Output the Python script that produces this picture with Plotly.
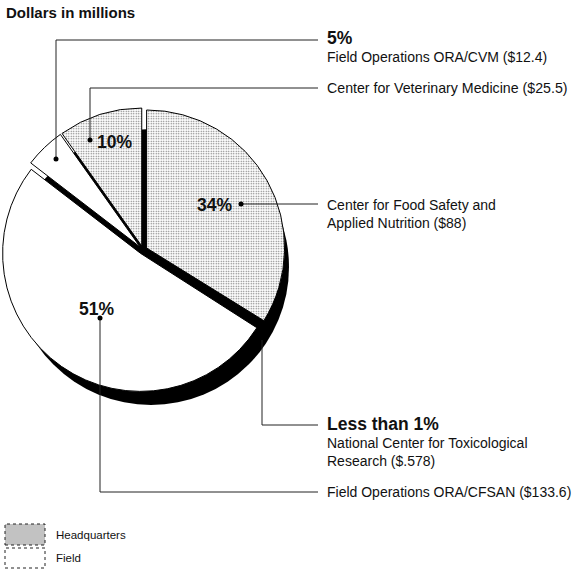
import plotly.graph_objects as go

# ---- data (clockwise from 12 o'clock) ----
labels = ["Center for Food Safety and Applied Nutrition",
          "National Center for Toxicological Research",
          "Field Operations ORA/CFSAN",
          "Field Operations ORA/CVM",
          "Center for Veterinary Medicine"]
values = [88, 0.578, 133.6, 12.4, 25.5]
groups = ["Headquarters", "Headquarters", "Field", "Field", "Headquarters"]
legend_items = ["Headquarters", "Field"]
total = sum(values)
pcts = [v / total * 100 for v in values]

W, H = 584, 569
def px(x): return x / W
def py(y): return 1 - y / H

FONT = "Liberation Sans, Arial, sans-serif"
GRAY = "#c2c2c2"

slice_colors = []
patterns = []
for g, v in zip(groups, values):
    if v / total < 0.01:
        slice_colors.append("#000000"); patterns.append("")
    elif g == "Headquarters":
        slice_colors.append(GRAY); patterns.append(".")
    else:
        slice_colors.append("#ffffff"); patterns.append("")

fig = go.Figure()

# shadow disc
cx, cy, r = 151, 267, 138
fig.add_trace(go.Pie(values=[total], labels=["shadow"], sort=False,
                     marker=dict(colors=["#000000"], line=dict(width=0)),
                     textinfo="none", hoverinfo="skip", showlegend=False,
                     domain=dict(x=[px(cx - r), px(cx + r)], y=[py(cy + r), py(cy - r)])))

# main pie
cx, cy, r = 143, 250, 138
pull = 0.03
half = r * (1 + pull)
fig.add_trace(go.Pie(values=values, labels=labels, sort=False, direction="clockwise",
                     rotation=0, pull=[pull] * len(values),
                     marker=dict(colors=slice_colors, line=dict(color="#000000", width=1),
                                 pattern=dict(shape=patterns, fgcolor="#6e6e6e", size=2.5,
                                              solidity=0.25)),
                     textinfo="none", hoverinfo="label+value", showlegend=False,
                     domain=dict(x=[px(cx - half), px(cx + half)],
                                 y=[py(cy + half), py(cy - half)])))

shapes = []
annotations = []

def line(x0, y0, x1, y1):
    shapes.append(dict(type="line", xref="paper", yref="paper",
                       x0=px(x0), y0=py(y0), x1=px(x1), y1=py(y1),
                       line=dict(color="#222", width=1)))

def dot(x, y, s=2.5):
    shapes.append(dict(type="circle", xref="paper", yref="paper",
                       x0=px(x - s), y0=py(y + s), x1=px(x + s), y1=py(y - s),
                       fillcolor="#000", line=dict(width=0)))

def text(x, y, t, size=14, bold=False, xanchor="left"):
    annotations.append(dict(xref="paper", yref="paper", x=px(x), y=py(y), text=("<b>%s</b>" % t) if bold else t,
                            showarrow=False, xanchor=xanchor, yanchor="middle",
                            font=dict(family=FONT, size=size, color="#111"), borderpad=0))

def pct(p):
    return "Less than 1%" if p < 1 else "%d%%" % round(p)

# leaders
line(56, 159, 56, 40); line(56, 40, 318, 40); dot(56, 159)
line(90, 140, 90, 88); line(90, 88, 318, 88); dot(90, 140)
line(241, 204, 318, 204); dot(241, 204)
line(262, 340, 262, 425); line(262, 425, 318, 425)
line(100, 318, 100, 492); line(100, 492, 318, 492); dot(100, 318)

# labels on right
text(326, 38, pct(pcts[3]), size=17.5, bold=True)
text(326, 57, "%s ($%s)" % (labels[3], values[3]))
text(326, 88, "%s ($%s)" % (labels[4], values[4]), size=14.2)
text(326, 205, "Center for Food Safety and")
text(326, 223, "Applied Nutrition ($%g)" % values[0])
text(326, 424, pct(pcts[1]), size=17.5, bold=True)
text(326, 443, "National Center for Toxicological")
text(326, 461, "Research ($%s)" % ("%g" % values[1]).lstrip("0"))
text(326, 492, "%s ($%s)" % (labels[2], values[2]))

# percentages in slices
text(114, 142, pct(pcts[4]), size=17.5, bold=True, xanchor="center")
text(215, 205, pct(pcts[0]), size=17.5, bold=True, xanchor="center")
text(96, 309, pct(pcts[2]), size=17.5, bold=True, xanchor="center")

# title
text(5, 13, "Dollars in millions", size=15, bold=True)

# legend
shapes.append(dict(type="rect", xref="paper", yref="paper", x0=px(5), x1=px(45), y0=py(545), y1=py(524),
                   fillcolor=GRAY, line=dict(color="#222", width=1, dash="dot")))
shapes.append(dict(type="rect", xref="paper", yref="paper", x0=px(5), x1=px(45), y0=py(568), y1=py(548),
                   fillcolor="#fff", line=dict(color="#222", width=1, dash="dot")))
text(55, 535, legend_items[0], size=11.5)
text(55, 558, legend_items[1], size=11.5)

fig.update_layout(width=W, height=H, margin=dict(l=0, r=0, t=0, b=0),
                  paper_bgcolor="#fff", plot_bgcolor="#fff",
                  shapes=shapes, annotations=annotations, showlegend=False)

fig.write_html("out.html")
